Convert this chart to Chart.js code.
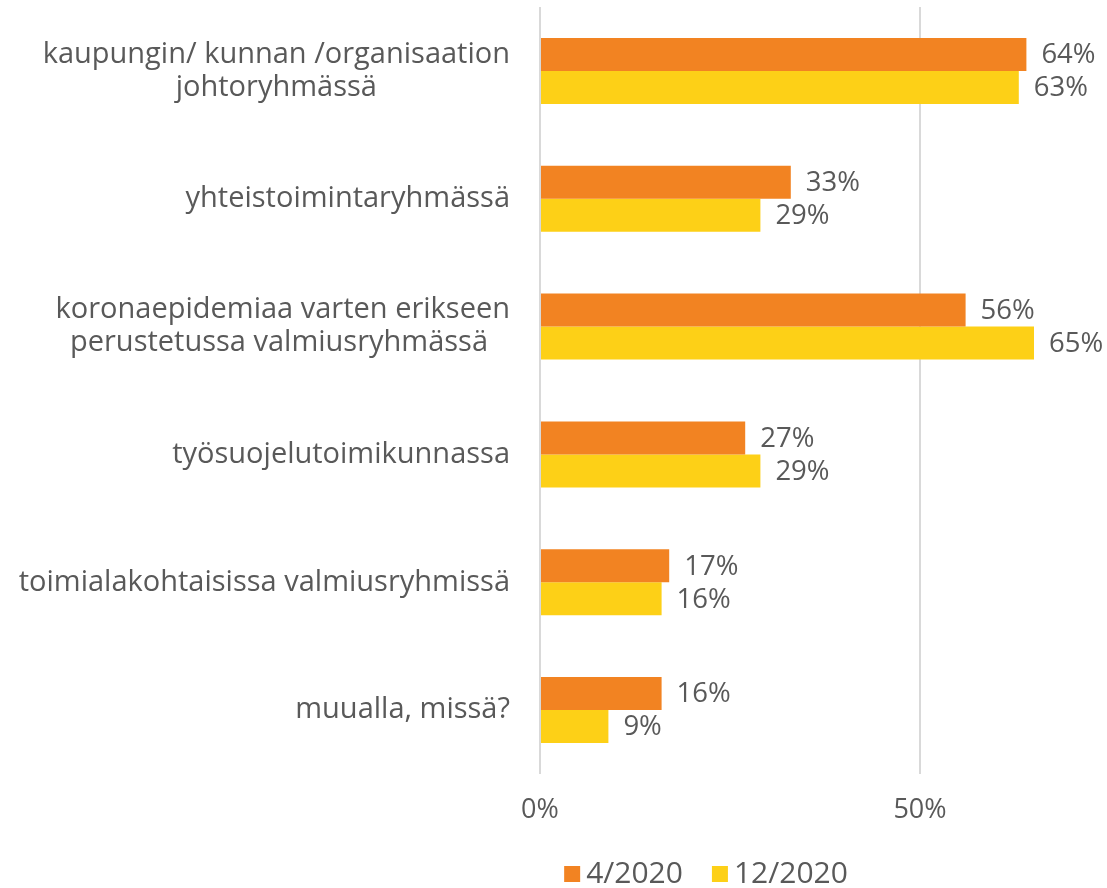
<!DOCTYPE html>
<html><head><meta charset="utf-8">
<script src="https://cdn.jsdelivr.net/npm/chart.js@4"></script>
<style>html,body{margin:0;padding:0;background:#fff}</style>
</head><body><canvas id="c" width="1107" height="888"></canvas>
<script>
const categories = [
  ["kaupungin/ kunnan /organisaation", "johtoryhmässä"],
  ["yhteistoimintaryhmässä"],
  ["koronaepidemiaa varten erikseen", "perustetussa valmiusryhmässä "],
  ["työsuojelutoimikunnassa"],
  ["toimialakohtaisissa valmiusryhmissä"],
  ["muualla, missä?"]
];
const seriesNames = ["4/2020", "12/2020"];
const seriesApr = [64, 33, 56, 27, 17, 16];
const seriesDec = [63, 29, 65, 29, 16, 9];
const xTickValues = [0, 50];

const FONT = "'Open Sans'";
const TXT = "#595959";
const colors = ["#F28322", "#FDD017"];

const customDraw = {
  id: "customDraw",
  afterDraw(chart) {
    const ctx = chart.ctx;
    const ys = chart.scales.y;
    ctx.save();
    ctx.fillStyle = TXT;
    // category labels
    ctx.font = "29px " + FONT;
    ctx.textBaseline = "middle";
    ctx.textAlign = "center";
    categories.forEach((lines, i) => {
      const cy = ys.getPixelForTick(i);
      const w = Math.max(...lines.map(l => ctx.measureText(l).width));
      const cx = 510 - w / 2;
      const lh = 33;
      lines.forEach((l, k) => {
        ctx.fillText(l, cx, cy + (k - (lines.length - 1) / 2) * lh);
      });
    });
    // data labels
    ctx.font = "27.5px " + FONT;
    ctx.textAlign = "left";
    chart.data.datasets.forEach((ds, di) => {
      const meta = chart.getDatasetMeta(di);
      meta.data.forEach((bar, i) => {
        ctx.fillText(ds.data[i] + "%", bar.x + 15, bar.y + 1);
      });
    });
    // legend
    ctx.font = "30px " + FONT;
    const items = seriesNames.map((n, i) => ({ n, c: colors[i], w: ctx.measureText(n).width }));
    const total = items.reduce((s, it) => s + 22 + it.w, 0) + 29 * (items.length - 1);
    let x = 706 - total / 2;
    const ly = 874;
    items.forEach(it => {
      ctx.fillStyle = it.c;
      ctx.fillRect(x, ly - 8, 16, 16);
      ctx.fillStyle = TXT;
      ctx.fillText(it.n, x + 22, ly);
      x += 22 + it.w + 29;
    });
    ctx.restore();
  }
};

new Chart(document.getElementById("c"), {
  type: "bar",
  data: {
    labels: categories,
    datasets: [
      { label: seriesNames[0], data: seriesApr, backgroundColor: colors[0] },
      { label: seriesNames[1], data: seriesDec, backgroundColor: colors[1] }
    ]
  },
  options: {
    indexAxis: "y",
    responsive: false,
    animation: false,
    layout: { padding: { left: 0, right: 35, top: 7, bottom: 0 } },
    datasets: { bar: { categoryPercentage: 0.516, barPercentage: 1.0, borderWidth: 0 } },
    plugins: { legend: { display: false }, tooltip: { enabled: false } },
    scales: {
      y: {
        ticks: { display: false },
        grid: { display: false },
        border: { display: false },
        afterFit: s => { s.width = 540; }
      },
      x: {
        min: 0, max: 70,
        afterBuildTicks: s => { s.ticks = xTickValues.map(v => ({ value: v })); },
        ticks: { callback: v => v + "%", font: { family: "Open Sans", size: 27 }, color: TXT, padding: 20, maxRotation: 0 },
        grid: { color: "#D9D9D9", lineWidth: 2, drawTicks: false },
        border: { display: false },
        afterFit: s => { s.height = 114; }
      }
    }
  },
  plugins: [customDraw]
});
</script>
</body></html>
